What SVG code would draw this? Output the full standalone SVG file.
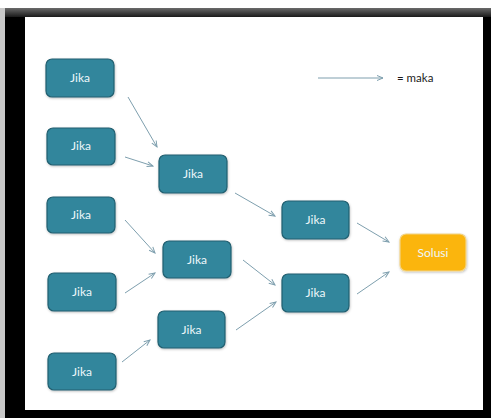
<svg xmlns="http://www.w3.org/2000/svg" width="491" height="418" viewBox="0 0 491 418">
<defs>
<linearGradient id="topband" x1="0" y1="0" x2="0" y2="1">
<stop offset="0" stop-color="#6a6a6a"/>
<stop offset="1" stop-color="#1a1a1a"/>
</linearGradient>
<marker id="ah" markerWidth="8" markerHeight="8" refX="7" refY="4" orient="auto" markerUnits="userSpaceOnUse">
<path d="M1,1.5 L7,4 L1,6.5" fill="none" stroke="#7e9fae" stroke-width="1"/>
</marker>
<filter id="sh" x="-10%" y="-10%" width="130%" height="140%">
<feDropShadow dx="0.5" dy="1" stdDeviation="0.8" flood-color="#000" flood-opacity="0.25"/>
</filter>
</defs>
<style>
.n rect{fill:#32869c;stroke:#215f70;stroke-width:1.2;filter:url(#sh)}
.s rect{fill:#fbb511;stroke:#f2d488;stroke-width:1.2;filter:url(#sh)}
.n text,.s text{fill:#eef7fa;font-family:Lato,"Open Sans","Liberation Sans",sans-serif;font-size:12px;text-anchor:middle}
.c line{stroke:#7e9fae;stroke-width:1;marker-end:url(#ah)}
</style>
<rect x="0" y="0" width="491" height="418" fill="#ffffff"/>
<rect x="0" y="8" width="5" height="410" fill="#c8c8c8"/>
<rect x="5" y="8" width="486" height="410" fill="#000000"/>
<rect x="5" y="8" width="486" height="9" fill="url(#topband)"/>
<rect x="25" y="17" width="458" height="393" fill="#ffffff"/>
<g class="c" id="connectors">
<line x1="128" y1="97" x2="157" y2="147"/>
<line x1="125" y1="157" x2="153" y2="166"/>
<line x1="235" y1="193" x2="275" y2="216"/>
<line x1="125" y1="220" x2="155" y2="253"/>
<line x1="125" y1="293" x2="155" y2="273"/>
<line x1="243" y1="260" x2="275" y2="285"/>
<line x1="122" y1="362" x2="150" y2="340"/>
<line x1="236" y1="330" x2="276" y2="302"/>
<line x1="357" y1="223" x2="389" y2="242"/>
<line x1="357" y1="294" x2="389" y2="272"/>
<line x1="318" y1="78" x2="383" y2="78"/>
</g>
<text x="397" y="82" font-family="Lato,'Open Sans','Liberation Sans',sans-serif" font-size="11.5" fill="#1a1a1a">= maka</text>
<g class="n" id="n1"><rect x="46" y="59" width="68" height="38" rx="6"/><text x="80" y="82">Jika</text></g>
<g class="n" id="n2"><rect x="47" y="128" width="68" height="37" rx="6"/><text x="81" y="150">Jika</text></g>
<g class="n" id="n3"><rect x="47" y="197" width="68" height="36" rx="6"/><text x="81" y="219">Jika</text></g>
<g class="n" id="n4"><rect x="48" y="273" width="68" height="38" rx="6"/><text x="82" y="296">Jika</text></g>
<g class="n" id="n5"><rect x="48" y="353" width="68" height="37" rx="6"/><text x="82" y="376">Jika</text></g>
<g class="n" id="n6"><rect x="159" y="155" width="68" height="38" rx="6"/><text x="193" y="178">Jika</text></g>
<g class="n" id="n7"><rect x="163" y="241" width="68" height="37" rx="6"/><text x="197" y="264">Jika</text></g>
<g class="n" id="n8"><rect x="158" y="311" width="67" height="37" rx="6"/><text x="191.5" y="334">Jika</text></g>
<g class="n" id="n9"><rect x="282" y="201" width="67" height="38" rx="6"/><text x="315.5" y="224">Jika</text></g>
<g class="n" id="n10"><rect x="282" y="274" width="67" height="38" rx="6"/><text x="315.5" y="297">Jika</text></g>
<g class="s" id="solusi"><rect x="400" y="234" width="66" height="37" rx="6"/><text x="433" y="257">Solusi</text></g>
</svg>
